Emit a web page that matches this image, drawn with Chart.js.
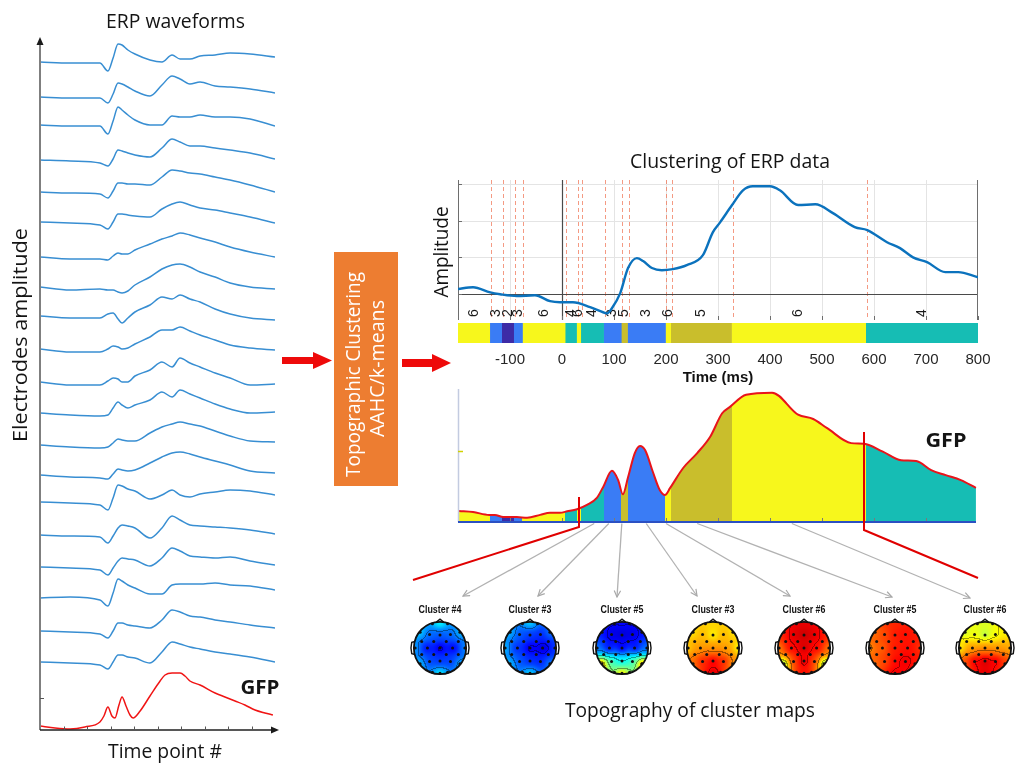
<!DOCTYPE html>
<html>
<head>
<meta charset="utf-8">
<title>ERP topographic clustering</title>
<script src="https://cdn.jsdelivr.net/npm/chart.js@4.4.1/dist/chart.umd.min.js"></script>
<style>
  html, body { margin: 0; padding: 0; background: #fff; overflow: hidden; }
  #stage { position: relative; width: 1016px; height: 763px; }
  #stage canvas { position: absolute; }
  #overlay { position: absolute; left: 0; top: 0; z-index: 5; }
  .cal { font-family: 'Open Sans', sans-serif; font-size: 19.5px; fill: #141414; }
</style>
</head>
<body>
<div id="stage">
  <canvas id="erp" width="300" height="763" style="left:0;top:0"></canvas>
  <canvas id="clus" width="580" height="155" style="left:420px;top:170px"></canvas>
  <canvas id="band" width="580" height="66" style="left:420px;top:321px"></canvas>
  <canvas id="gfp" width="580" height="150" style="left:420px;top:380px"></canvas>

  <svg id="overlay" width="1016" height="763" xmlns="http://www.w3.org/2000/svg">
    <defs>
      <marker id="grayHead" viewBox="0 0 10 10" refX="9" refY="5" markerWidth="8" markerHeight="8"
              orient="auto" markerUnits="userSpaceOnUse">
        <path d="M1,1 L9,5 L1,9" fill="none" stroke="#a8a8a8" stroke-width="1.5"/>
      </marker>
    </defs>

    <!-- left panel captions -->
    <text class="cal" x="175.5" y="28" text-anchor="middle" textLength="139" lengthAdjust="spacingAndGlyphs">ERP waveforms</text>
    <text class="cal" transform="translate(26.5,335) rotate(-90)" text-anchor="middle" textLength="214" lengthAdjust="spacingAndGlyphs">Electrodes amplitude</text>
    <text class="cal" x="165" y="758" text-anchor="middle" textLength="114" lengthAdjust="spacingAndGlyphs">Time point #</text>
    <text class="cal" x="260" y="694" text-anchor="middle" font-weight="bold" textLength="39" lengthAdjust="spacingAndGlyphs">GFP</text>

    <!-- processing step -->
    <polygon points="282,357 313,357 313,352 332,360.5 313,369 313,364 282,364" fill="#ee0a0a"/>
    <rect x="334" y="252" width="64" height="234" fill="#ED7D31"/>
    <text class="cal" transform="translate(359.5,374.5) rotate(-90)" text-anchor="middle" style="fill:#fff" textLength="205" lengthAdjust="spacingAndGlyphs">Topographic Clustering</text>
    <text class="cal" transform="translate(384,368.5) rotate(-90)" text-anchor="middle" style="fill:#fff" textLength="137" lengthAdjust="spacingAndGlyphs">AAHC/k-means</text>
    <polygon points="402,359 432,359 432,354 451,363 432,372 432,367 402,367" fill="#ee0a0a"/>

    <!-- right panel captions -->
    <text class="cal" x="730" y="168" text-anchor="middle" textLength="200" lengthAdjust="spacingAndGlyphs">Clustering of ERP data</text>
    <text class="cal" transform="translate(448,252) rotate(-90)" text-anchor="middle" textLength="91" lengthAdjust="spacingAndGlyphs">Amplitude</text>
    <text class="cal" x="946" y="447" text-anchor="middle" font-weight="bold" textLength="41" lengthAdjust="spacingAndGlyphs">GFP</text>

    <!-- zoom brackets -->
    <polyline points="579,497 579,527 413,580" fill="none" stroke="#e00000" stroke-width="2"/>
    <polyline points="864,432 864,530 978,578" fill="none" stroke="#e00000" stroke-width="2"/>

    <g id="pointers"></g>
    <g id="mapLabels"></g>
    <text class="cal" x="690" y="717" text-anchor="middle" textLength="250" lengthAdjust="spacingAndGlyphs">Topography of cluster maps</text>
  </svg>
</div>

<script>
// ---------------- ERP waveforms (left panel) ----------------
const timePoints = [0, 12.8, 25.5, 28.9, 31.1, 33.2, 34.9, 37.4, 40.4, 46.8, 51.9, 56.2, 59.6, 63.8, 68.1, 74.5, 80.9, 89.4, 100];
const channelOffsets = [668, 633, 605, 570, 538, 508, 473, 442, 413, 380, 347, 317, 285, 255, 228, 195, 163, 132, 99, 68];

const ch01 = [0, -1, -1, -9, 4, 18, 17, 12, 8, 2, 0, 7, 3, 3, 6, 7, 9, 8, 5];
const ch02 = [0, -1, -1, -6, 3, 14, 13, 10, 6, 1, 12, 21, 18, 13, 15, 11, 10, 8, 4];
const ch03 = [0, -1, -1, -9, 4, 18, 15, 10, 5, 0, 0, 9, 8, 8, 10, 8, 8, 6, -1];
const ch04 = [0, -1, -3, -6, 1, 10, 9, 7, 5, 3, 12, 21, 18, 14, 14, 12, 10, 7, 1];
const ch05 = [0, -1, -2, -6, 1, 9, 9, 8, 8, 7, 15, 22, 21, 19, 18, 15, 12, 7, 0];
const ch06 = [0, -1, -3, -7, 0, 8, 8, 7, 6, 5, 13, 18, 20, 17, 14, 12, 9, 5, -1];
const ch07 = [0, -2, -2, -3, 1, 4, 3, 3, 7, 13, 18, 21, 24, 22, 19, 15, 10, 5, 0];
const ch08 = [1, -2, -1, -2, -2, -4, -5, -3, 3, 11, 19, 23, 24, 21, 16, 11, 5, 1, -1];
const ch09 = [1, -1, -1, 3, 4, -2, -6, -1, 5, 12, 20, 18, 22, 18, 15, 8, 3, -1, -3];
const ch10 = [1, -2, -2, 1, 4, 3, 1, 2, 6, 13, 20, 20, 23, 19, 15, 10, 5, 2, 0];
const ch11 = [1, -2, -2, 2, 5, 4, 1, 1, 7, 13, 21, 16, 25, 20, 16, 10, 5, -2, -1];
const ch12 = [0, -2, -3, -2, 5, 11, 8, 5, 8, 13, 21, 16, 23, 19, 15, 9, 4, 0, 1];
const ch13 = [0, -2, -3, -2, 2, 6, 5, 4, 4, 12, 18, 21, 23, 21, 19, 14, 9, 4, 3];
const ch14 = [0, -2, -3, -4, 1, 6, 5, 4, 5, 12, 18, 22, 23, 21, 18, 14, 10, 4, 2];
const ch15 = [0, -1, -3, -8, 4, 17, 16, 13, 11, 3, 7, 12, 7, 5, 8, 10, 12, 11, 7];
const ch16 = [0, -1, -2, -8, -1, 7, 10, 9, 7, -3, 7, 19, 15, 10, 9, 8, 7, 5, 1];
const ch17 = [0, -1, -3, -8, -1, 6, 9, 8, 7, 1, 9, 19, 16, 11, 10, 9, 10, 6, 2];
const ch18 = [0, 1, -2, -8, 5, 19, 17, 13, 10, 4, 4, 13, 14, 14, 14, 15, 13, 12, 8];
const ch19 = [0, -1, -3, -7, 0, 8, 8, 6, 5, 3, 11, 21, 19, 15, 14, 11, 9, 6, 3];
const ch20 = [0, -1, -3, -7, 0, 7, 7, 5, 4, -1, 10, 20, 18, 15, 13, 10, 8, 5, 0];
const channelWaves = [ch01, ch02, ch03, ch04, ch05, ch06, ch07, ch08, ch09, ch10,
                      ch11, ch12, ch13, ch14, ch15, ch16, ch17, ch18, ch19, ch20];

const gfpPointTimes = [0, 6.4, 12.8, 19.1, 25.5, 27.2, 28.9, 30.6, 31.9, 33.6, 34.9, 36.6, 38.3, 39.6, 42.6,
                       46.8, 51.1, 53.2, 56.2, 59.6, 61.7, 63.8, 68.1, 74.5, 78.7, 83.0, 87.2, 91.5, 95.7, 99.1];
const gfpPointValues = [4, 2, 1, 3, 8, 14, 23, 14, 12, 25, 33, 24, 15, 12, 19,
                        34, 49, 55, 57, 57, 54, 49, 45, 37, 33, 29, 25, 20, 17, 15];
const timePointTicks = [10, 20, 30, 40, 50, 60, 70, 80, 90];

// ---------------- Clustering of ERP data (right panel) ----------------
const ampTimes = [-200, -171, -138, -119, -87, -52, -23, -4, 21, 54, 79, 87, 96, 112, 127, 144, 156, 173, 192, 213,
                  240, 271, 290, 304, 327, 348, 367, 400, 419, 454, 487, 521, 563, 587, 625, 650, 675, 702, 737, 762, 800];
const ampValues = [0.14, 0.19, 0.05, 0.0, -0.05, -0.03, -0.19, -0.22, -0.22, -0.35, -0.49, -0.52, -0.38, 0.03, 0.71, 0.98, 0.90, 0.71, 0.65, 0.68,
                   0.79, 1.06, 1.68, 1.95, 2.42, 2.82, 2.93, 2.93, 2.82, 2.42, 2.44, 2.20, 1.82, 1.74, 1.41, 1.25, 1.00, 0.87, 0.60, 0.60, 0.46];
const ampTicks = [0, 1, 2, 3];
const timeTicks = [-200, -100, 0, 100, 200, 300, 400, 500, 600, 700, 800];

// microstate segments (ms) and the cluster assigned to each
const segBounds = [-200, -139, -116, -93, -76, 6, 28, 36, 80, 114, 126, 199, 209, 326, 584, 800];
const segCluster = [6, 3, 2, 3, 6, 4, 6, 4, 3, 5, 3, 6, 5, 6, 4];
const clusterColors = { 2: '#3d2ba6', 3: '#3a7cf5', 4: '#16bdb4', 5: '#c9be2c', 6: '#f7f71c' };

const gfpTimes = [-198, -171, -140, -129, -113, -100, -87, -67, -42, -23, -4, 10, 29, 48, 67, 79, 96, 108, 117, 127,
                  140, 150, 160, 175, 188, 198, 208, 233, 260, 285, 308, 323, 354, 404, 454, 483, 510, 556, 581, 617,
                  652, 681, 710, 738, 767, 796];
const gfpValues = [0.155, 0.14, 0.10, 0.10, 0.07, 0.07, 0.07, 0.06, 0.10, 0.13, 0.13, 0.15, 0.18, 0.24, 0.34, 0.49, 0.72, 0.59, 0.39, 0.63,
                   0.97, 1.07, 1.01, 0.70, 0.45, 0.38, 0.48, 0.76, 0.97, 1.20, 1.53, 1.62, 1.79, 1.82, 1.51, 1.45, 1.32, 1.11, 1.10, 0.99,
                   0.87, 0.86, 0.73, 0.66, 0.59, 0.48];

// ---------------- Cluster topographies ----------------
const topoClusters = [4, 3, 5, 3, 6, 5, 6];
const pointerTimes = [62, 90, 115, 162, 200, 260, 442];
// sites: Fp, F7, F3, Fz, F4, F8, T7, C3, Cz, C4, T8, P7, P3, Pz, P4, P8, Oz
const topoSiteX = [0, -0.78, -0.4, 0, 0.4, 0.78, -1, -0.5, 0, 0.5, 1, -0.78, -0.4, 0, 0.4, 0.78, 0];
const topoSiteY = [0.95, 0.6, 0.5, 0.5, 0.5, 0.6, 0, 0, 0, 0, 0, -0.6, -0.5, -0.5, -0.5, -0.6, -0.95];
const mapA = [0.42, 0.36, 0.22, 0.20, 0.22, 0.33, 0.30, 0.10, 0.06, 0.08, 0.27, 0.34, 0.18, 0.16, 0.17, 0.31, 0.40];
const mapB = [0.37, 0.33, 0.20, 0.17, 0.15, 0.25, 0.33, 0.15, 0.07, 0.04, 0.18, 0.34, 0.20, 0.15, 0.14, 0.27, 0.37];
const mapC = [0.13, 0.14, 0.07, 0.05, 0.07, 0.13, 0.22, 0.09, 0.06, 0.09, 0.22, 0.82, 0.46, 0.38, 0.46, 0.80, 0.70];
const mapD = [0.66, 0.64, 0.70, 0.60, 0.70, 0.64, 0.66, 0.72, 0.72, 0.72, 0.60, 0.76, 0.86, 0.93, 0.86, 0.72, 0.93];
const mapE = [0.90, 0.84, 0.92, 0.95, 0.92, 0.84, 0.74, 0.88, 0.95, 0.88, 0.74, 0.44, 0.82, 0.94, 0.82, 0.44, 0.88];
const mapF = [0.84, 0.76, 0.80, 0.86, 0.87, 0.85, 0.72, 0.77, 0.86, 0.87, 0.82, 0.76, 0.80, 0.88, 0.91, 0.85, 0.90];
const mapG = [0.58, 0.56, 0.60, 0.50, 0.60, 0.63, 0.62, 0.72, 0.74, 0.72, 0.70, 0.80, 0.92, 0.97, 0.92, 0.82, 0.92];
const topoMaps = [mapA, mapB, mapC, mapD, mapE, mapF, mapG];
const electrodeX = [-0.29, 0.29, -0.76, -0.4, 0, 0.4, 0.76, -0.7, -0.24, 0.24, 0.7, -0.95, -0.48, 0, 0.48, 0.95,
                    -0.7, -0.24, 0.24, 0.7, -0.76, -0.4, 0, 0.4, 0.76, -0.29, 0, 0.29];
const electrodeY = [0.93, 0.93, 0.6, 0.52, 0.5, 0.52, 0.6, 0.25, 0.25, 0.25, 0.25, 0, 0, 0, 0, 0,
                    -0.25, -0.25, -0.25, -0.25, -0.6, -0.52, -0.5, -0.52, -0.6, -0.93, -0.97, -0.93];

// layout of the topography row
const topoCenters = [440, 530, 622, 713, 804, 895, 985];
const topoCenterY = 648;
const pointerEnds = [[463, 596], [538, 596], [617, 597], [697, 596], [790, 596], [892, 597], [970, 598]];

Chart.defaults.font.family = '"Liberation Sans", Arial, sans-serif';

function line(ctx, x0, y0, x1, y1) { ctx.beginPath(); ctx.moveTo(x0, y0); ctx.lineTo(x1, y1); ctx.stroke(); }
const common = { responsive: false, animation: false, devicePixelRatio: 1, events: [] };
const quiet = { legend: { display: false }, tooltip: { enabled: false } };

// ---------- left panel ----------
const erpAxes = {
  id: 'erpAxes',
  afterDatasetsDraw(chart) {
    const { ctx, chartArea: a, scales: { x, y } } = chart;
    ctx.save();
    ctx.strokeStyle = '#7f7f7f'; ctx.lineWidth = 2;
    line(ctx, a.left, a.bottom, a.left, a.top + 6);
    ctx.fillStyle = '#1a1a1a';
    ctx.beginPath(); ctx.moveTo(a.left, a.top); ctx.lineTo(a.left - 3.5, a.top + 8); ctx.lineTo(a.left + 3.5, a.top + 8); ctx.closePath(); ctx.fill();
    ctx.strokeStyle = '#1f1f1f'; ctx.lineWidth = 1.5;
    line(ctx, a.left, a.bottom, a.right - 2, a.bottom);
    ctx.beginPath(); ctx.moveTo(a.right + 4, a.bottom); ctx.lineTo(a.right - 4, a.bottom - 3.5); ctx.lineTo(a.right - 4, a.bottom + 3.5); ctx.closePath(); ctx.fill();
    ctx.lineWidth = 1; ctx.strokeStyle = '#555';
    for (const t of timePointTicks) { const px = Math.round(x.getPixelForValue(t)) + 0.5; line(ctx, px, a.bottom, px, a.bottom - 3.5); }
    const py = Math.round(y.getPixelForValue(32)) + 0.5;
    line(ctx, a.left, py, a.left + 4, py);
    ctx.restore();
  }
};

const erpDatasets = channelWaves.map((amp, c) => ({
  data: timePoints.map((t, k) => ({ x: t, y: channelOffsets[c] + amp[k] })),
  borderColor: 'rgb(56,142,210)', borderWidth: 1.5, pointRadius: 0, cubicInterpolationMode: 'monotone'
}));
erpDatasets.push({
  data: gfpPointTimes.map((t, k) => ({ x: t, y: gfpPointValues[k] })),
  borderColor: '#f01414', borderWidth: 1.5, pointRadius: 0, cubicInterpolationMode: 'monotone'
});

new Chart(document.getElementById('erp'), {
  type: 'line',
  data: { datasets: erpDatasets },
  options: Object.assign({}, common, {
    layout: { padding: { left: 40, top: 37, right: 25, bottom: 33 } },
    scales: { x: { type: 'linear', min: 0, max: 100, display: false }, y: { min: 0, max: 693, display: false } },
    plugins: quiet
  }),
  plugins: [erpAxes]
});

// ---------- clustering of ERP data ----------
const clusFrame = {
  id: 'clusFrame',
  beforeDatasetsDraw(chart) {
    const { ctx, chartArea: a, scales: { x, y } } = chart;
    ctx.save();
    ctx.lineWidth = 1; ctx.strokeStyle = '#e4e4e4';
    for (const t of timeTicks.slice(1, -1)) { const px = Math.round(x.getPixelForValue(t)) + 0.5; line(ctx, px, a.top, px, a.bottom); }
    for (const v of ampTicks.slice(1)) { const py = Math.round(y.getPixelForValue(v)) + 0.5; line(ctx, a.left, py, a.right, py); }
    ctx.setLineDash([4, 3]); ctx.strokeStyle = 'rgba(240,120,90,0.75)';
    for (let i = 1; i < segBounds.length - 1; i++) {
      const px = Math.round(x.getPixelForValue(segBounds[i])) + 1.5; line(ctx, px, a.top, px, a.bottom);
    }
    ctx.setLineDash([]);
    ctx.strokeStyle = '#4a4a4a'; ctx.lineWidth = 1.2;
    const y0 = Math.round(y.getPixelForValue(0)) + 0.5; line(ctx, a.left, y0, a.right, y0);
    const x0 = Math.round(x.getPixelForValue(0)) + 0.5; line(ctx, x0, a.top, x0, a.bottom);
    ctx.strokeStyle = '#6e6e6e'; ctx.lineWidth = 1;
    line(ctx, a.left + 0.5, a.top, a.left + 0.5, a.bottom);
    line(ctx, a.right - 0.5, a.top, a.right - 0.5, a.bottom);
    for (const v of ampTicks) { const py = Math.round(y.getPixelForValue(v)) + 0.5; line(ctx, a.left, py, a.left + 4, py); }
    for (const t of timeTicks) { const px = Math.round(x.getPixelForValue(t)) + 0.5; line(ctx, px, a.bottom, px, a.bottom - 4); }
    ctx.fillStyle = '#1a1a1a'; ctx.font = '14px "Liberation Sans", Arial, sans-serif';
    ctx.textAlign = 'center'; ctx.textBaseline = 'middle';
    for (let i = 0; i < segCluster.length; i++) {
      const px = x.getPixelForValue((segBounds[i] + segBounds[i + 1]) / 2);
      ctx.save(); ctx.translate(px, a.bottom - 7); ctx.rotate(-Math.PI / 2);
      ctx.fillText(String(segCluster[i]), 0, 0); ctx.restore();
    }
    ctx.restore();
  }
};

new Chart(document.getElementById('clus'), {
  type: 'line',
  data: { datasets: [{
    data: ampTimes.map((t, k) => ({ x: t, y: ampValues[k] })),
    borderColor: '#0b72bd', borderWidth: 2.4, pointRadius: 0, cubicInterpolationMode: 'monotone'
  }] },
  options: Object.assign({}, common, {
    layout: { padding: { left: 38, right: 22, top: 10, bottom: 5 } },
    scales: { x: { type: 'linear', min: -200, max: 800, display: false }, y: { min: -0.7, max: 3.1, display: false } },
    plugins: quiet
  }),
  plugins: [clusFrame]
});

// ---------- microstate band with time axis ----------
new Chart(document.getElementById('band'), {
  type: 'bar',
  data: {
    labels: ['states'],
    datasets: segCluster.map((c, i) => ({
      data: [[segBounds[i], segBounds[i + 1]]],
      backgroundColor: clusterColors[c], borderWidth: 0,
      barPercentage: 1, categoryPercentage: 1, grouped: false
    }))
  },
  options: Object.assign({}, common, {
    indexAxis: 'y',
    layout: { padding: { left: 38, right: 22, top: 2, bottom: 0 } },
    scales: {
      x: {
        type: 'linear', min: -200, max: 800,
        grid: { display: false, drawTicks: false }, border: { display: false },
        ticks: { stepSize: 100, padding: 8, color: '#262626', font: { size: 15 }, autoSkip: false, maxRotation: 0,
                 callback: v => (v === -200 ? '' : String(v)) },
        title: { display: true, text: 'Time (ms)', color: '#111', font: { size: 15, weight: 'bold' }, padding: { top: 0, bottom: 0 } },
        afterFit: s => { s.height = 44; }
      },
      y: { display: false }
    },
    plugins: quiet
  })
});

// ---------- GFP coloured by microstate ----------
function stateFill(c) {
  const chart = c.chart, a = chart.chartArea, xs = chart.scales.x;
  if (!a || !xs) return 'rgba(0,0,0,0)';
  const g = chart.ctx.createLinearGradient(a.left, 0, a.right, 0);
  const w = a.right - a.left;
  const off = t => Math.min(1, Math.max(0, (xs.getPixelForValue(t) - a.left) / w));
  for (let i = 0; i < segCluster.length; i++) {
    const col = clusterColors[segCluster[i]];
    g.addColorStop(off(segBounds[i]), col);
    g.addColorStop(off(segBounds[i + 1]), col);
  }
  return g;
}

const gfpFrame = {
  id: 'gfpFrame',
  afterDatasetsDraw(chart) {
    const { ctx, chartArea: a, scales: { x, y } } = chart;
    ctx.save();
    ctx.strokeStyle = '#c3cbe0'; ctx.lineWidth = 1.5;
    line(ctx, a.left + 0.5, a.top + 2, a.left + 0.5, a.bottom);
    ctx.strokeStyle = '#d2d200'; ctx.lineWidth = 1.5;
    const py = Math.round(y.getPixelForValue(1)) + 0.5; line(ctx, a.left, py, a.left + 5, py);
    ctx.strokeStyle = '#7a7a7a'; ctx.lineWidth = 1;
    for (const t of timeTicks.slice(1, -1)) { const px = Math.round(x.getPixelForValue(t)) + 0.5; line(ctx, px, a.bottom, px, a.bottom - 4); }
    ctx.strokeStyle = '#2b50c2'; ctx.lineWidth = 2;
    line(ctx, a.left, a.bottom, a.right - 2, a.bottom);
    ctx.restore();
  }
};

const gfpChart = new Chart(document.getElementById('gfp'), {
  type: 'line',
  data: { datasets: [{
    data: gfpTimes.map((t, k) => ({ x: t, y: gfpValues[k] })),
    borderColor: '#e8141a', borderWidth: 2, pointRadius: 0, cubicInterpolationMode: 'monotone',
    fill: 'origin', backgroundColor: stateFill
  }] },
  options: Object.assign({}, common, {
    layout: { padding: { left: 38, right: 22, top: 7, bottom: 8 } },
    scales: { x: { type: 'linear', min: -200, max: 800, display: false }, y: { min: 0, max: 1.9, display: false } },
    plugins: quiet
  }),
  plugins: [gfpFrame]
});

// ---------- topographic maps ----------
function jet(v) {
  const c = t => Math.max(0, Math.min(1, t));
  return [c(1.5 - Math.abs(4 * v - 3)), c(1.5 - Math.abs(4 * v - 2)), c(1.5 - Math.abs(4 * v - 1))].map(q => Math.round(q * 255));
}

const topoHead = {
  id: 'topoHead',
  beforeDatasetsDraw(chart, args, opts) {
    const { ctx, chartArea: a, scales: { x, y } } = chart;
    const vals = opts.values;
    const w = Math.round(a.right - a.left), h = Math.round(a.bottom - a.top);
    const off = document.createElement('canvas'); off.width = w; off.height = h;
    const octx = off.getContext('2d');
    const img = octx.createImageData(w, h);
    const val = new Float32Array(w * h), lev = new Int16Array(w * h).fill(-1);
    for (let j = 0; j < h; j++) {
      for (let i = 0; i < w; i++) {
        const hx = x.getValueForPixel(a.left + i + 0.5), hy = y.getValueForPixel(a.top + j + 0.5);
        if (hx * hx + hy * hy > 1.0) continue;
        let sw = 0, sv = 0;
        for (let k = 0; k < vals.length; k++) {
          const dx = hx - topoSiteX[k], dy = hy - topoSiteY[k];
          const wt = 1 / Math.pow(dx * dx + dy * dy + 0.05, 1.3);
          sw += wt; sv += wt * vals[k];
        }
        const v = sv / sw; val[j * w + i] = v; lev[j * w + i] = Math.floor(v * 8);
      }
    }
    for (let j = 0; j < h; j++) {
      for (let i = 0; i < w; i++) {
        const idx = j * w + i; if (lev[idx] < 0) continue;
        let [r, g, b] = jet(val[idx]);
        const edge = (i > 0 && lev[idx - 1] >= 0 && lev[idx - 1] !== lev[idx]) ||
                     (j > 0 && lev[idx - w] >= 0 && lev[idx - w] !== lev[idx]);
        if (edge) { r *= 0.62; g *= 0.62; b *= 0.62; }
        img.data[idx * 4] = r; img.data[idx * 4 + 1] = g; img.data[idx * 4 + 2] = b; img.data[idx * 4 + 3] = 255;
      }
    }
    octx.putImageData(img, 0, 0);
    ctx.drawImage(off, a.left, a.top);
    const cx = x.getPixelForValue(0), cy = y.getPixelForValue(0), r = x.getPixelForValue(1) - cx;
    ctx.save();
    ctx.strokeStyle = '#111'; ctx.lineWidth = 1.8;
    ctx.beginPath(); ctx.arc(cx, cy, r, 0, Math.PI * 2); ctx.stroke();
    ctx.lineWidth = 1.4;
    for (const s of [-1, 1]) {
      ctx.beginPath();
      ctx.moveTo(cx + s * r * 0.99, cy - r * 0.24);
      ctx.lineTo(cx + s * r * 1.08, cy - r * 0.22);
      ctx.quadraticCurveTo(cx + s * r * 1.14, cy, cx + s * r * 1.08, cy + r * 0.22);
      ctx.lineTo(cx + s * r * 0.99, cy + r * 0.24);
      ctx.stroke();
    }
    ctx.beginPath();
    ctx.moveTo(cx - r * 0.14, cy - r * 0.99); ctx.lineTo(cx, cy - r * 1.1); ctx.lineTo(cx + r * 0.14, cy - r * 0.99);
    ctx.stroke();
    ctx.restore();
  }
};

const stage = document.getElementById('stage');
const overlay = document.getElementById('overlay');
topoMaps.forEach((vals, m) => {
  const cv = document.createElement('canvas');
  cv.width = 76; cv.height = 76;
  cv.style.left = (topoCenters[m] - 38) + 'px'; cv.style.top = (topoCenterY - 38) + 'px';
  stage.insertBefore(cv, overlay);
  new Chart(cv, {
    type: 'scatter',
    data: { datasets: [{
      data: electrodeX.map((ex, i) => ({ x: ex, y: electrodeY[i] })),
      pointRadius: 1.5, pointBackgroundColor: '#111', pointBorderWidth: 0
    }] },
    options: Object.assign({}, common, {
      layout: { padding: 0 },
      scales: { x: { display: false, min: -1.3, max: 1.3 }, y: { display: false, min: -1.3, max: 1.3 } },
      plugins: Object.assign({}, quiet, { topoHead: { values: vals } })
    }),
    plugins: [topoHead]
  });
});

// ---------- pointers from the GFP time axis to each map, and map captions ----------
const svgNS = 'http://www.w3.org/2000/svg';
const gfpX = gfpChart.scales.x, gfpArea = gfpChart.chartArea;
const gfpLeft = 420, gfpTop = 380;
const pointers = document.getElementById('pointers');
pointerTimes.forEach((t, i) => {
  const ln = document.createElementNS(svgNS, 'line');
  ln.setAttribute('x1', gfpLeft + gfpX.getPixelForValue(t));
  ln.setAttribute('y1', gfpTop + gfpArea.bottom + 1.5);
  ln.setAttribute('x2', pointerEnds[i][0]);
  ln.setAttribute('y2', pointerEnds[i][1]);
  ln.setAttribute('stroke', '#b2b2b2'); ln.setAttribute('stroke-width', '1.3');
  ln.setAttribute('marker-end', 'url(#grayHead)');
  pointers.appendChild(ln);
});
const mapLabels = document.getElementById('mapLabels');
topoClusters.forEach((c, i) => {
  const tx = document.createElementNS(svgNS, 'text');
  tx.setAttribute('x', topoCenters[i]); tx.setAttribute('y', 613);
  tx.setAttribute('text-anchor', 'middle');
  tx.setAttribute('font-family', '"Liberation Sans", Arial, sans-serif');
  tx.setAttribute('font-size', '10.5'); tx.setAttribute('font-weight', 'bold'); tx.setAttribute('fill', '#111');
  tx.setAttribute('textLength', '43'); tx.setAttribute('lengthAdjust', 'spacingAndGlyphs');
  tx.textContent = 'Cluster #' + c;
  mapLabels.appendChild(tx);
});
</script>
</body>
</html>
